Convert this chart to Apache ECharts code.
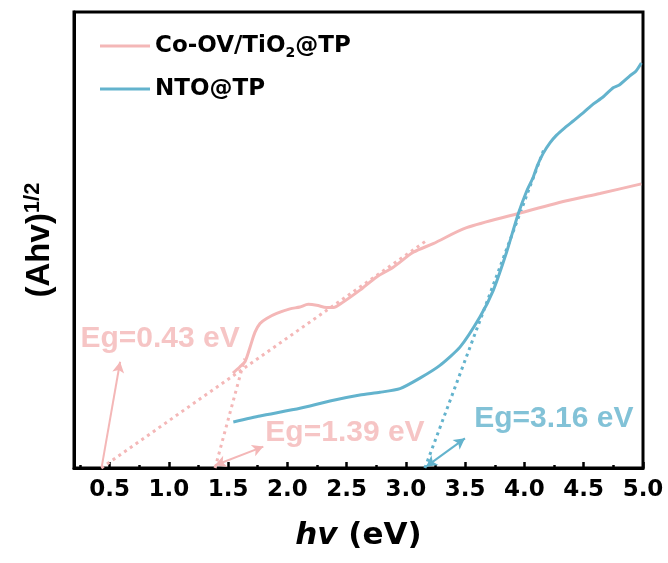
<!DOCTYPE html>
<html><head><meta charset="utf-8">
<script src="https://cdn.jsdelivr.net/npm/echarts@6/dist/echarts.min.js"></script>
<style>html,body{margin:0;padding:0;background:#fff}#c{width:668px;height:563px}</style>
</head><body><div id="c"></div>
<script>
// ---- data ----
const coName = 'Co-OV/TiO2@TP';
const ntoName = 'NTO@TP';
const coX = [1.541,1.600,1.642,1.685,1.727,1.769,1.825,1.910,2.022,2.106,2.176,2.247,2.331,2.387,2.471,2.612,2.753,2.893,3.062,3.230,3.512,3.933,4.355,4.636,4.986];
const coY = [20.8,22.2,23.3,26.5,29.8,31.7,32.8,33.9,34.9,35.3,35.9,35.7,35.2,35.2,36.4,39.0,41.9,44.0,47.3,49.2,52.7,55.7,58.6,60.2,62.3];
const ntoX = [1.544,1.769,2.106,2.359,2.612,2.781,2.950,3.118,3.287,3.456,3.624,3.736,3.849,3.947,4.020,4.073,4.110,4.158,4.215,4.271,4.340,4.411,4.500,4.579,4.660,4.748,4.800,4.889,4.940,4.986];
const ntoY = [10.1,11.4,13.1,14.7,16.0,16.6,17.4,19.7,22.5,26.5,33.1,38.9,47.3,55.7,60.8,63.7,66.4,69.0,71.3,73.0,74.6,76.1,78.0,79.8,81.3,83.4,84.0,86.0,87.0,88.8];
// tangent (extrapolation) lines
const tanCo1 = [[0.43,0],[3.175,49.9]];
const tanCo2 = [[1.39,0],[1.64,24.0]];
const tanNto = [[3.16,0],[4.16,69.6]];
// arrows [start, end]
const arrowCo1 = [[0.434,0.3],[0.589,23.3]];
const arrowCo2 = [[1.39,0.6],[1.797,4.7]];
const arrowNto = [[3.17,0.3],[3.498,6.5]];
// band-gap labels
const egTexts = ['Eg=0.43 eV','Eg=1.39 eV','Eg=3.16 eV'];
const egPos = [[0.926,28.4],[2.486,7.7],[4.248,10.9]];
// axis ticks
const xMin = 0.2, xMax = 5.0;
const xMajor = [0.5,1.0,1.5,2.0,2.5,3.0,3.5,4.0,4.5,5.0];
const xMinor = [0.25,0.75,1.25,1.75,2.25,2.75,3.25,3.75,4.25,4.75];

const PINK = '#F4B7B7', BLUE = '#63B3CD';
const zip = (xs, ys) => xs.map((x, i) => [x, ys[i]]);

const chart = echarts.init(document.getElementById('c'), null, {renderer: 'canvas'});
const numFont = 'DejaVu Sans';
const txtFont = 'Liberation Sans';

function tangent(data, color) {
  return {type:'line', data, symbol:'none', silent:true, z:3,
    lineStyle:{color, width:3, type:[3,4]}};
}
function arrow(pts, color, both) {
  return {type:'line', data:[], symbol:'none', silent:true,
    markLine:{silent:true, symbol: both ? ['arrow','arrow'] : ['none','arrow'], symbolSize:[9,11],
      label:{show:false}, lineStyle:{color, width:2, type:'solid'},
      data:[[{coord:pts[0]},{coord:pts[1]}]]}};
}

chart.setOption({
  animation:false,
  grid:{left:74, right:25, top:12, bottom:95, show:true, borderColor:'#000', borderWidth:3, backgroundColor:'transparent'},
  legend:{
    orient:'vertical', left:95, top:27, itemGap:15, itemWidth:50, itemHeight:3, icon:'rect',
    data:[coName, ntoName],
    formatter: n => n.replace('TiO2', 'TiO{sub|2}'),
    textStyle:{fontFamily:numFont, fontWeight:'bold', fontSize:23, color:'#000', lineHeight:28,
      rich:{sub:{fontFamily:numFont, fontWeight:'bold', fontSize:14, verticalAlign:'bottom', lineHeight:28}}}
  },
  xAxis:[{
    type:'value', min:xMin, max:xMax, position:'bottom',
    name:'{i|hv} (eV)', nameLocation:'middle', nameGap:52,
    nameTextStyle:{fontFamily:numFont, fontWeight:'bold', fontSize:31, color:'#000',
      rich:{i:{fontFamily:numFont, fontWeight:'bold', fontStyle:'italic', fontSize:31, color:'#000'}}},
    axisLine:{show:true, lineStyle:{color:'#000', width:3}},
    axisTick:{show:true, inside:true, length:6, lineStyle:{color:'#000', width:2.5}, customValues:xMajor},
    axisLabel:{show:true, customValues:xMajor, margin:11, formatter:v => v.toFixed(1),
      fontFamily:numFont, fontWeight:'bold', fontSize:23, color:'#000'},
    splitLine:{show:false}
  },{
    type:'value', min:xMin, max:xMax, position:'bottom',
    axisLine:{show:false},
    axisTick:{show:true, inside:true, length:3, lineStyle:{color:'#000', width:2.5}, customValues:xMinor},
    axisLabel:{show:false}, splitLine:{show:false}
  }],
  yAxis:{
    type:'value', min:0, max:100,
    name:'{a|(Ahv)}{s|1/2}', nameLocation:'middle', nameGap:16, nameRotate:90,
    nameTextStyle:{color:'#000',
      rich:{a:{fontFamily:txtFont, fontWeight:'bold', fontSize:33, color:'#000', lineHeight:36},
            s:{fontFamily:txtFont, fontWeight:'bold', fontSize:22, color:'#000', verticalAlign:'top', lineHeight:36}}},
    axisLine:{show:true, lineStyle:{color:'#000', width:3}},
    axisTick:{show:false}, axisLabel:{show:false}, splitLine:{show:false}
  },
  series:[
    {name:coName, type:'line', data:zip(coX, coY), symbol:'none', smooth:0.3, z:4,
      lineStyle:{color:PINK, width:3}, itemStyle:{color:PINK}},
    {name:ntoName, type:'line', data:zip(ntoX, ntoY), symbol:'none', smooth:0.2, z:5,
      lineStyle:{color:BLUE, width:3}, itemStyle:{color:BLUE}},
    tangent(tanCo1, PINK), tangent(tanCo2, PINK), tangent(tanNto, BLUE),
    arrow(arrowCo1, PINK, false), arrow(arrowCo2, PINK, true), arrow(arrowNto, BLUE, true),
    {type:'scatter', silent:true, symbolSize:1, itemStyle:{color:'rgba(0,0,0,0)'}, z:6,
      data: egPos.map((p, i) => ({value:p, label:{color: i < 2 ? PINK : BLUE}})),
      label:{show:true, position:'inside', formatter: p => egTexts[p.dataIndex],
        fontFamily:txtFont, fontWeight:'bold', fontSize:30}}
  ]
});
</script></body></html>
